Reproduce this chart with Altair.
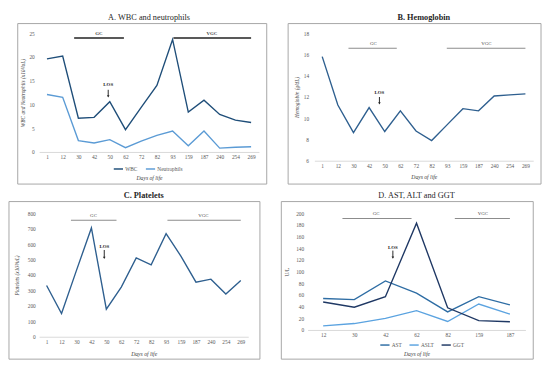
import altair as alt
import pandas as pd

FONT = "Liberation Serif"

# ---- data ----
DAYS_A = ["1", "12", "30", "42", "50", "62", "72", "82", "93", "159", "187", "240", "254", "269"]
WBC = [19.6, 20.2, 7.1, 7.3, 10.6, 4.7, 9.4, 14.0, 23.7, 8.4, 10.9, 7.9, 6.7, 6.2]
NEUT = [12.1, 11.5, 2.4, 1.9, 2.6, 0.9, 2.3, 3.5, 4.4, 1.3, 4.4, 0.8, 1.0, 1.1]

HGB = [15.8, 11.25, 8.65, 11.0, 8.75, 10.7, 8.8, 7.9, 9.4, 10.9, 10.7, 12.1, 12.2, 12.3]

PLT = [332, 151, 430, 705, 179, 322, 511, 466, 668, 521, 354, 373, 277, 365]

DAYS_D = ["12", "30", "42", "62", "82", "159", "187"]
AST = [54, 52, 84, 63, 31, 57, 43]
ALT = [7, 11, 20, 33, 14.5, 44.5, 27]
GGT = [48, 39, 57, 183, 38, 16, 14]

# annotation positions (category index units, value units)
ANN_A = dict(gc=(1.73, 4.9), vgc=(8.05, 13.0), bar_y=24.0, lab_y=24.95, gc_lab=3.3, vgc_lab=10.5,
             los_x=3.9, los_y=14.4, arr=(13.1, 11.7))
ANN_B = dict(gc=(1.68, 4.77), vgc=(7.97, 13.0), bar_y=16.6, lab_y=17.05, gc_lab=3.27, vgc_lab=10.5,
             los_x=3.66, los_y=12.46, arr=(12.0, 11.4))
ANN_C = dict(gc=(1.63, 4.68), vgc=(8.09, 13.0), bar_y=755, lab_y=790, gc_lab=3.14, vgc_lab=10.5,
             los_x=3.86, los_y=586, arr=(562, 511))
ANN_D = dict(gc=(0.62, 2.84), vgc=(4.23, 6.0), bar_y=191, lab_y=200, gc_lab=1.7, vgc_lab=5.13,
             los_x=2.24, los_y=142, arr=(136, 124))


def make_panel(title, bold, days, names, values, colors, ydom, ystep, ytitle, ytitle_italic,
               W, H, frame, ann, legend_xy, heavy_bars, ylab_pad, ytitle_pad, xtitle_pad):
    n = len(days)
    rows = []
    for name, vals in zip(names, values):
        for i, v in enumerate(vals):
            rows.append({"idx": i, "value": v, "series": name})
    df = pd.DataFrame(rows)
    arr = "[" + ",".join("'%s'" % d for d in days) + "]"

    xscale = alt.Scale(domain=[-0.5, n - 0.5], nice=False, zero=False)
    yscale = alt.Scale(domain=ydom, nice=False, zero=False)
    xaxis = alt.Axis(values=list(range(n)), labelExpr=f"{arr}[datum.value]", title="Days of life",
                     titleFontStyle="italic", titleFontWeight="normal", titleFontSize=5.8,
                     grid=False, ticks=False, domainColor="#d9d9d9", labelPadding=3,
                     labelFontSize=5.5, titlePadding=xtitle_pad, labelAngle=0)
    yaxis = alt.Axis(values=list(range(ydom[0], ydom[1] + 1, ystep)), title=ytitle,
                     titleFontStyle="italic" if ytitle_italic else "normal",
                     titleFontWeight="normal", titleFontSize=5.5,
                     grid=False, ticks=False, domain=False, labelPadding=ylab_pad,
                     labelFontSize=5.5, titlePadding=ytitle_pad)
    xe = alt.X("idx:Q", scale=xscale, axis=xaxis)
    ye = alt.Y("value:Q", scale=yscale, axis=yaxis)

    if len(names) > 1:
        color = alt.Color("series:N", scale=alt.Scale(domain=names, range=colors),
                          legend=alt.Legend(orient="none", legendX=legend_xy[0], legendY=legend_xy[1],
                                            direction="horizontal", title=None, symbolType="stroke",
                                            symbolSize=90, symbolStrokeWidth=1.5,
                                            labelFont=FONT, labelFontSize=5.5, labelColor="#595959",
                                            columnPadding=4, labelOffset=1.5))
    else:
        color = alt.value(colors[0])

    lines = alt.Chart(df).mark_line(strokeWidth=1.4).encode(x=xe, y=ye, color=color)

    bars_df = pd.DataFrame({
        "idx": [ann["gc"][0], ann["vgc"][0]],
        "idx2": [ann["gc"][1], ann["vgc"][1]],
        "value": [ann["bar_y"], ann["bar_y"]],
    })
    labs_df = pd.DataFrame({
        "idx": [ann["gc_lab"], ann["vgc_lab"]],
        "value": [ann["lab_y"], ann["lab_y"]],
        "label": ["GC", "VGC"],
    })
    bar_color = "#595959" if heavy_bars else "#8c8c8c"
    bars = alt.Chart(bars_df).mark_rule(color=bar_color, strokeWidth=2 if heavy_bars else 1.1).encode(
        x=xe, x2=alt.X2("idx2:Q"), y=ye)
    labs = alt.Chart(labs_df).mark_text(font=FONT, fontSize=5, color="#404040",
                                        fontWeight="bold" if heavy_bars else "normal",
                                        baseline="middle").encode(x=xe, y=ye, text="label:N")

    los_df = pd.DataFrame({"idx": [ann["los_x"]], "value": [ann["los_y"]], "label": ["LOS"]})
    arr_df = pd.DataFrame({"idx": [ann["los_x"]], "value": [ann["arr"][0]], "value2": [ann["arr"][1]]})
    tip_df = pd.DataFrame({"idx": [ann["los_x"]], "value": [ann["arr"][1]]})
    los = alt.Chart(los_df).mark_text(font=FONT, fontSize=5, fontWeight="bold", color="#262626",
                                      baseline="middle").encode(x=xe, y=ye, text="label:N")
    arrow = alt.Chart(arr_df).mark_rule(color="#262626", strokeWidth=1).encode(
        x=xe, y=ye, y2=alt.Y2("value2:Q"))
    tip = alt.Chart(tip_df).mark_point(shape="triangle-down", filled=True, size=7, color="#262626",
                                       opacity=1).encode(x=xe, y=ye)

    fl, fr, ft, fb = frame
    box = alt.Chart(pd.DataFrame({"k": [0]})).mark_rect(filled=False, stroke="#a6a6a6",
                                                        strokeWidth=1).encode(
        x=alt.value(fl), x2=alt.value(W + fr), y=alt.value(ft), y2=alt.value(H + fb))

    return alt.layer(lines, bars, labs, los, arrow, tip, box).properties(
        width=W, height=H,
        title=alt.TitleParams(text=title, font=FONT, fontSize=8.5,
                              fontWeight="bold" if bold else "normal", color="#262626",
                              offset=2, anchor="middle"))


pA = make_panel("A. WBC and neutrophils", False, DAYS_A, ["WBC", "Neutrophils"], [WBC, NEUT],
                ["#1f4e79", "#5b9bd5"], [0, 25], 5, "WBC and Neutrophils (x10³/uL)", True,
                226, 122, (-22, 8, -10, 33), ANN_A, (76, 134), True, 5, 4, 15)
pB = make_panel("B. Hemoglobin", True, DAYS_A, ["Hemoglobin"], [HGB], ["#2e5f8f"], [6, 18], 2,
                "Hemoglobin (g/dL)", True, 225, 131, (-27, 8, -10, 24), ANN_B, (0, 0), False, 6, 4, 5)
pC = make_panel("C. Platelets", True, DAYS_A, ["Platelets"], [PLT], ["#2e5f8f"], [0, 800], 100,
                "Platelets (x10³/uL)", True, 215, 127, (-31, 12, -12, 23), ANN_C, (0, 0), False, 4, 8, 6)
pD = make_panel("D. AST, ALT and GGT", False, DAYS_D, ["AST", "ASLT", "GGT"], [AST, ALT, GGT],
                ["#2e6da4", "#5ba3e0", "#1f3864"], [0, 200], 20, "U/L", False,
                224, 120, (-27, 8, -12, 30), ANN_D, (74, 130), False, 4, 6, 13)

row1 = alt.hconcat(pA, pB, spacing=20).resolve_scale(color="independent")
row2 = alt.hconcat(pC, pD, spacing=20).resolve_scale(color="independent")

chart = alt.vconcat(row1, row2, spacing=6).resolve_scale(color="independent").properties(
    padding=0).configure_view(stroke=None).configure_axis(
    labelFont=FONT, titleFont=FONT, labelColor="#595959", titleColor="#404040")

chart.save("out.html", embed_options={"renderer": "svg", "actions": False})
